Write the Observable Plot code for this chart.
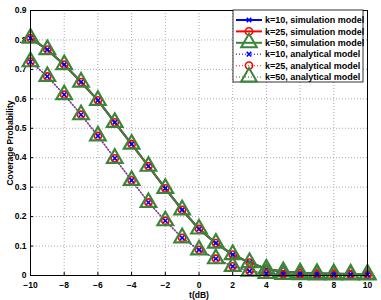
<!DOCTYPE html>
<html>
<head>
<meta charset="utf-8">
<script src="https://cdn.jsdelivr.net/npm/d3@7"></script>
<script src="https://cdn.jsdelivr.net/npm/@observablehq/plot@0.6"></script>
<style>
  html, body { margin: 0; padding: 0; background: #fff; }
  #chart { width: 381px; height: 300px; }
</style>
</head>
<body>
<div id="chart"></div>
<script>
// t (dB) values
const tdB = [-10,-9,-8,-7,-6,-5,-4,-3,-2,-1,0,1,2,3,4,5,6,7,8,9,10];
// simulation model (k = 10, 25, 50)
const simK10 = [0.806,0.767,0.716,0.657,0.595,0.520,0.446,0.371,0.296,0.223,0.158,0.110,0.071,0.044,0.022,0.013,0.009,0.007,0.006,0.005,0.005];
const simK25 = [0.806,0.767,0.716,0.657,0.595,0.520,0.446,0.371,0.296,0.223,0.158,0.110,0.071,0.044,0.022,0.013,0.009,0.007,0.006,0.005,0.005];
const simK50 = [0.806,0.767,0.716,0.657,0.595,0.520,0.446,0.371,0.296,0.223,0.158,0.110,0.071,0.044,0.022,0.013,0.009,0.007,0.006,0.005,0.005];
// analytical model (k = 10, 25, 50)
const anaK10 = [0.726,0.676,0.614,0.546,0.474,0.398,0.323,0.248,0.186,0.128,0.087,0.057,0.031,0.015,0.007,0.004,0.003,0.002,0.002,0.002,0.002];
const anaK25 = [0.726,0.676,0.614,0.546,0.474,0.398,0.323,0.248,0.186,0.128,0.087,0.057,0.031,0.015,0.007,0.004,0.003,0.002,0.002,0.002,0.002];
const anaK50 = [0.726,0.676,0.614,0.546,0.474,0.398,0.323,0.248,0.186,0.128,0.087,0.057,0.031,0.015,0.007,0.004,0.003,0.002,0.002,0.002,0.002];
// tick labels
const xTicks = [-10,-8,-6,-4,-2,0,2,4,6,8,10];
const yTicks = [0,0.1,0.2,0.3,0.4,0.5,0.6,0.7,0.8,0.9];
const seriesNames = ["k=10, simulation model","k=25, simulation model","k=50, simulation model",
                     "k=10, analytical model","k=25, analytical model","k=50, analytical model"];

const BLUE = "#0000ff", RED = "#ff0000", GREEN = "#3a853a";
const FONT = "'Liberation Sans', Arial, sans-serif";
const toRows = (vals) => tdB.map((t, i) => ({t, p: vals[i]}));

const styles = [
  {vals: simK10, color: BLUE,  dash: null,  symbol: "times",    r: 2.2},
  {vals: simK25, color: RED,   dash: null,  symbol: "circle",   r: 3.6},
  {vals: simK50, color: GREEN, dash: null,  symbol: "triangle", r: 5.8},
  {vals: anaK10, color: BLUE,  dash: "1,2", symbol: "times",    r: 2.2},
  {vals: anaK25, color: RED,   dash: "1,2", symbol: "circle",   r: 3.6},
  {vals: anaK50, color: GREEN, dash: "1,2", symbol: "triangle", r: 5.8}
];

const seriesMarks = [];
// analytical dotted lines
[5,4,3].forEach(i => {
  const s = styles[i];
  seriesMarks.push(Plot.line(toRows(s.vals), {x: "t", y: "p", stroke: s.color, strokeWidth: 1.5, strokeDasharray: s.dash, strokeOpacity: 0.45}));
});
// simulation solid lines
[0,1,2].forEach(i => {
  const s = styles[i];
  seriesMarks.push(Plot.line(toRows(s.vals), {x: "t", y: "p", stroke: s.color, strokeWidth: 2}));
});
[0,1,2,3,4,5].forEach(i => {
  const s = styles[i];
  seriesMarks.push(Plot.dot(toRows(s.vals), {x: "t", y: "p", stroke: s.color, fill: "none", symbol: s.symbol, r: s.r, strokeWidth: s.symbol === "triangle" ? 2.2 : 1.6}));
});

const chart = Plot.plot({
  width: 381,
  height: 300,
  marginLeft: 30,
  marginRight: 14,
  marginTop: 10,
  marginBottom: 25,
  style: {fontFamily: FONT, fontWeight: "bold", fontSize: "9px", background: "#fff", color: "#000"},
  x: {domain: [-10, 10]},
  y: {domain: [0, 0.9]},
  marks: [
    Plot.gridX(xTicks, {stroke: "#aaa", strokeOpacity: 1, strokeDasharray: "1,2"}),
    Plot.gridY(yTicks, {stroke: "#aaa", strokeOpacity: 1, strokeDasharray: "1,2"}),
    Plot.axisX(xTicks, {tickSize: -3, tickPadding: 9, label: "t(dB)", labelAnchor: "center", labelArrow: "none", labelOffset: 22, fontSize: 8.5, fontWeight: "bold"}),
    Plot.axisY(yTicks, {tickSize: -3, tickPadding: 7, tickFormat: d => d === 0 ? "0" : d.toFixed(1), label: "Coverage Probability", labelAnchor: "center", labelArrow: "none", labelOffset: 24, fontSize: 8.5, fontWeight: "bold"}),
    ...seriesMarks,
    Plot.frame({stroke: "#000", strokeWidth: 1})
  ]
});
document.getElementById("chart").appendChild(chart);

// Legend inside the plot (upper right)
const svg = d3.select(chart);
const lg = svg.append("g").attr("transform", "translate(233,10)");
lg.append("rect").attr("x", 0).attr("y", 0).attr("width", 130).attr("height", 72)
  .style("fill", "#fff").style("stroke", "#000").style("stroke-width", "0.8px");
const symMap = {times: d3.symbolTimes, circle: d3.symbolCircle, triangle: d3.symbolTriangle};
styles.forEach((s, i) => {
  const cy = 10 + i * 11.4;
  const row = lg.append("g").attr("transform", `translate(0,${cy})`);
  row.append("line").attr("x1", 3).attr("x2", 29).attr("y1", 0).attr("y2", 0)
    .style("stroke", s.color).style("stroke-width", s.dash ? "1.4px" : "2px")
    .style("stroke-dasharray", s.dash || "none").style("stroke-opacity", s.dash ? 0.7 : 1);
  row.append("path").attr("transform", "translate(16,0)")
    .attr("d", d3.symbol(symMap[s.symbol], Math.PI * s.r * s.r)())
    .style("fill", "none").style("stroke", s.color).style("stroke-width", s.symbol === "triangle" ? "2px" : "1.6px");
  row.append("text").attr("x", 32).attr("y", 0).attr("dy", "0.35em")
    .attr("text-anchor", "start")
    .style("font-family", FONT).style("font-weight", "bold").style("font-size", "9px").style("fill", "#000")
    .text(seriesNames[i]);
});
</script>
</body>
</html>
